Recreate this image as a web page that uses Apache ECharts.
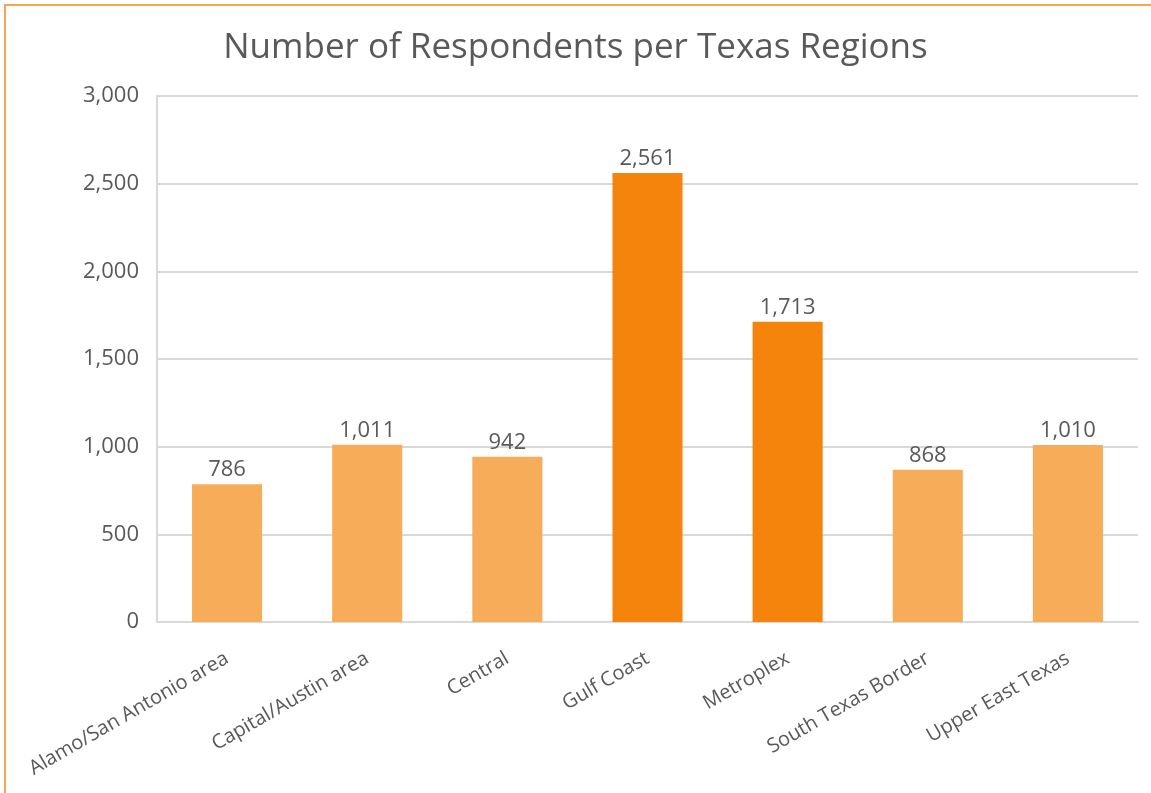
<!DOCTYPE html>
<html>
<head>
<meta charset="utf-8">
<script src="https://cdn.jsdelivr.net/npm/echarts@6/dist/echarts.min.js"></script>
<style>
html,body{margin:0;padding:0;background:#fff;}
#frame{position:absolute;left:4px;top:4px;width:1151px;height:793px;border-top:2px solid #F7A54F;border-left:2px solid #F7A54F;box-sizing:border-box;}
#chart{position:absolute;left:0;top:0;width:1151px;height:793px;}
</style>
</head>
<body>
<div id="frame"></div>
<div id="chart"></div>
<script>
const titleText = 'Number of Respondents per Texas Regions';
const categories = ['Alamo/San Antonio area','Capital/Austin area','Central','Gulf Coast','Metroplex','South Texas Border','Upper East Texas'];
const respondents = [786, 1011, 942, 2561, 1713, 868, 1010];
const highlighted = [false, false, false, true, true, false, false];
const yTicks = [0, 500, 1000, 1500, 2000, 2500, 3000];

const LIGHT = '#F7AC5A', DARK = '#F5840C', TXT = '#595959';
const font = "'Open Sans', 'Noto Sans', sans-serif";
const fmt = v => v.toLocaleString('en-US');

const chart = echarts.init(document.getElementById('chart'), null, {renderer:'canvas'});
chart.setOption({
  animation:false,
  backgroundColor:'transparent',
  textStyle:{fontFamily:font},
  title:{text:titleText,left:'center',top:26,textStyle:{fontFamily:font,fontSize:35,fontWeight:'normal',color:TXT}},
  grid:{left:157,right:13,top:96,bottom:171,containLabel:false},
  xAxis:{type:'category',data:categories,
    axisLine:{show:true,lineStyle:{color:'#D9D9D9',width:2}},
    axisTick:{show:false},
    axisLabel:{rotate:30,interval:0,fontSize:20,color:TXT,fontFamily:font,margin:35}
  },
  yAxis:{type:'value',min:yTicks[0],max:yTicks[yTicks.length-1],interval:500,
    axisLine:{show:true,lineStyle:{color:'#D9D9D9',width:2}},
    axisTick:{show:false},
    splitLine:{lineStyle:{color:'#D9D9D9',width:2}},
    axisLabel:{fontSize:22,color:TXT,fontFamily:font,margin:18,formatter:v=>fmt(v)}
  },
  series:[{type:'bar',barWidth:'50%',
    data:respondents.map((v,i)=>({value:v,itemStyle:{color:highlighted[i]?DARK:LIGHT}})),
    label:{show:true,position:'top',distance:3,fontSize:22,color:TXT,fontFamily:font,formatter:p=>fmt(p.value)}
  }]
});
</script>
</body>
</html>
